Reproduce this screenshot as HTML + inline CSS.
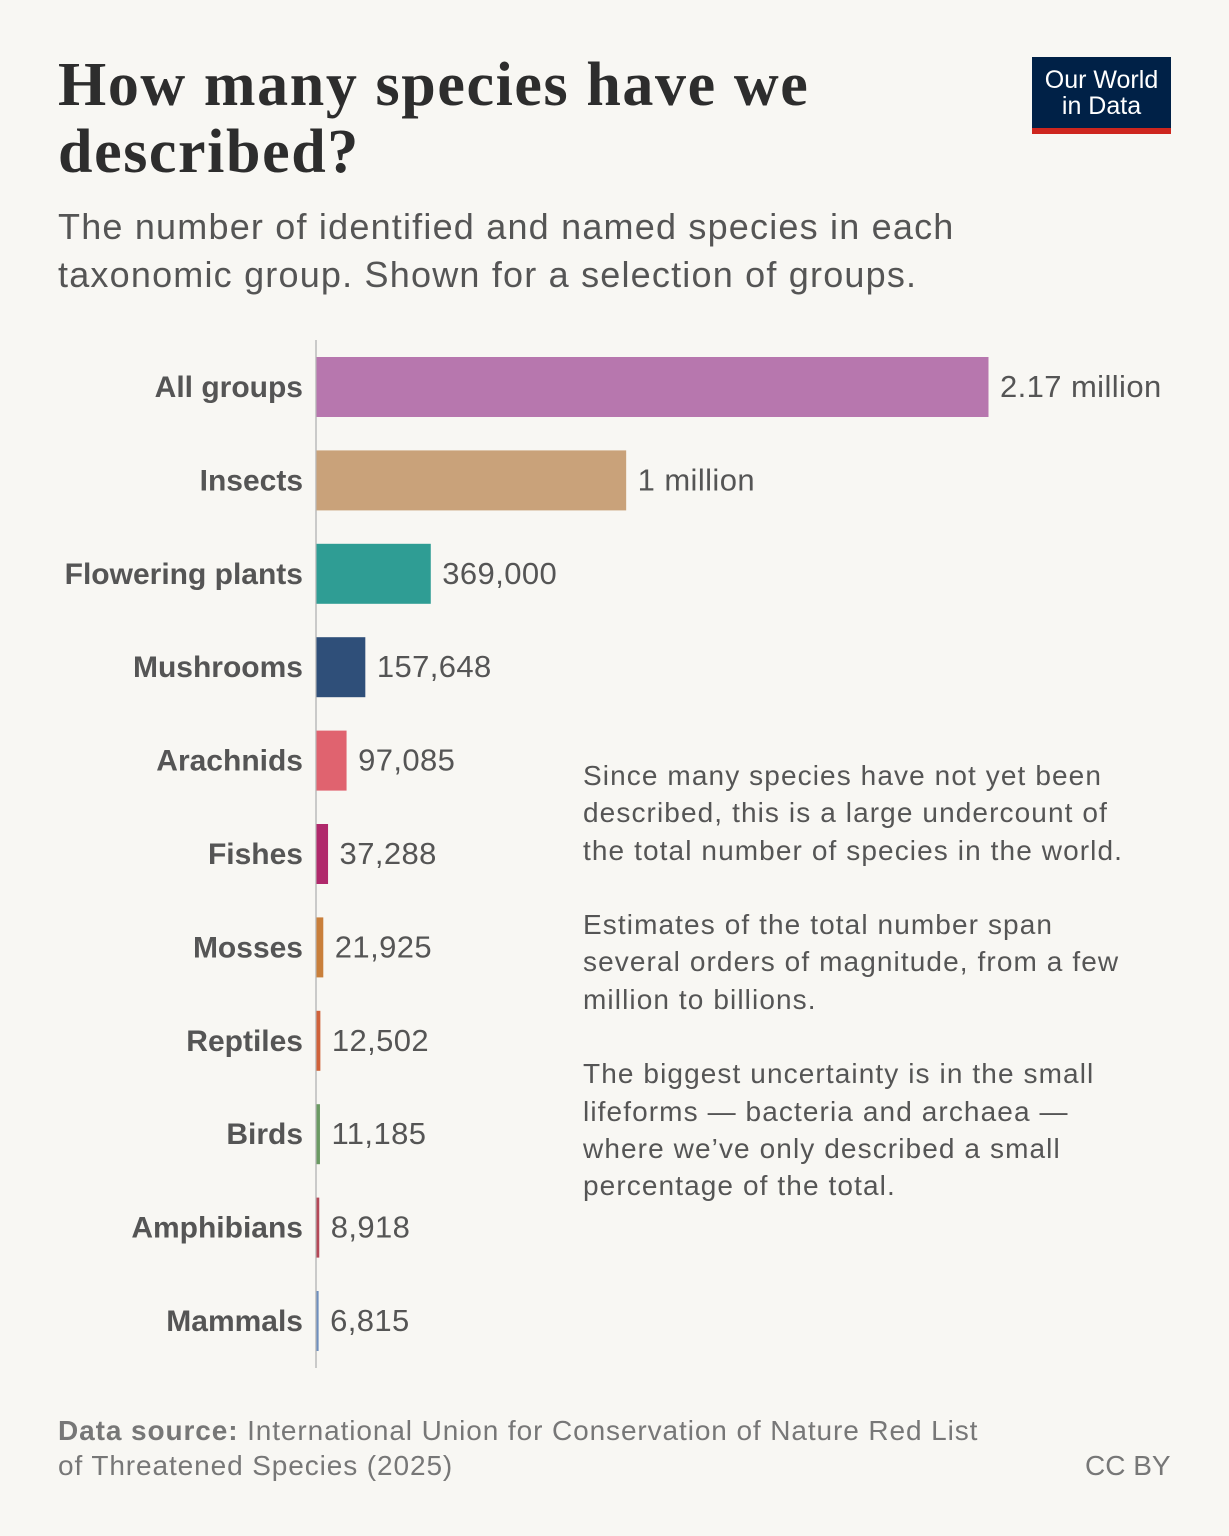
<!DOCTYPE html>
<html><head><meta charset="utf-8"><style>
body{margin:0;background:#f8f7f3;}
#page{position:relative;width:1229px;height:1536px;background:#f8f7f3;font-family:"Liberation Sans",sans-serif;overflow:hidden;}
.t{position:absolute;white-space:nowrap;}
</style></head><body>
<div id="page">
<div class="t" style="left:58px;top:52px;font-family:'Liberation Serif',serif;font-weight:bold;font-size:62px;line-height:67px;color:#2d2d2d;letter-spacing:1.6px">How many species have we<br>described?</div>
<div class="t" style="left:58px;top:203px;font-size:36px;line-height:48px;color:#555;letter-spacing:1.2px">The number of identified and named species in each<br>taxonomic group. Shown for a selection of groups.</div>
<div style="position:absolute;left:1032px;top:57px;width:139px;height:77px;background:#002147;color:#fff;text-align:center;font-size:25px;line-height:26px;box-sizing:border-box;padding-top:10px;border-bottom:6px solid #ce261e">Our World<br>in Data</div>
<svg id="chart" width="1229" height="1536" style="position:absolute;left:0;top:0"></svg>
<div class="t" style="left:583px;top:757px;font-size:28px;line-height:37.3px;color:#555;letter-spacing:1.1px">Since many species have not yet been<br>described, this is a large undercount of<br>the total number of species in the world.<br><br>Estimates of the total number span<br>several orders of magnitude, from a few<br>million to billions.<br><br>The biggest uncertainty is in the small<br>lifeforms — bacteria and archaea —<br>where we’ve only described a small<br>percentage of the total.</div>
<div class="t" style="left:58px;top:1413px;font-size:28px;line-height:35px;color:#777;letter-spacing:0.9px"><b>Data source:</b> International Union for Conservation of Nature Red List<br>of Threatened Species (2025)</div>
<div class="t" style="left:1085px;top:1448px;font-size:28px;line-height:35px;color:#777">CC BY</div>
</div>
<script>
const categories=["All groups","Insects","Flowering plants","Mushrooms","Arachnids","Fishes","Mosses","Reptiles","Birds","Amphibians","Mammals"];
const values=[2170000,1000000,369000,157648,97085,37288,21925,12502,11185,8918,6815];
const valueLabels=["2.17 million","1 million","369,000","157,648","97,085","37,288","21,925","12,502","11,185","8,918","6,815"];
const colors=["#b777ae","#c9a27a","#2f9d94","#2f4f79","#e0636f","#b0296b","#c97f3a","#d0623a","#6b9a63","#b44857","#6f8fbe"];
const NS="http://www.w3.org/2000/svg";
const svg=document.getElementById('chart');
const x0=316,maxW=672,maxV=2170000,top0=357,step=93.4,bh=60;
const xs=v=>v/maxV*maxW;
function mk(t,a){const e=document.createElementNS(NS,t);for(const k in a)e.setAttribute(k,a[k]);svg.appendChild(e);return e;}
const ax=mk('line',{x1:x0,x2:x0,y1:340,y2:1368,stroke:'#bbb','stroke-width':1.5});


categories.forEach((c,i)=>{
 const y=top0+i*step,w=Math.max(2,xs(values[i]));
 const r=mk('rect',{x:x0+0.5,y:y,width:w,height:bh,fill:colors[i]});
 
 
 const l=mk('text',{x:303,y:y+bh/2+10,'text-anchor':'end','font-size':30,'font-weight':'bold',fill:'#555','font-family':'Liberation Sans, sans-serif'});
 l.textContent=c;
 
 
 const v=mk('text',{x:x0+w+12,y:y+bh/2+10,'font-size':31,fill:'#555','font-family':'Liberation Sans, sans-serif','letter-spacing':0.4});
 v.textContent=valueLabels[i];
 
 
});
</script>
</body></html>
